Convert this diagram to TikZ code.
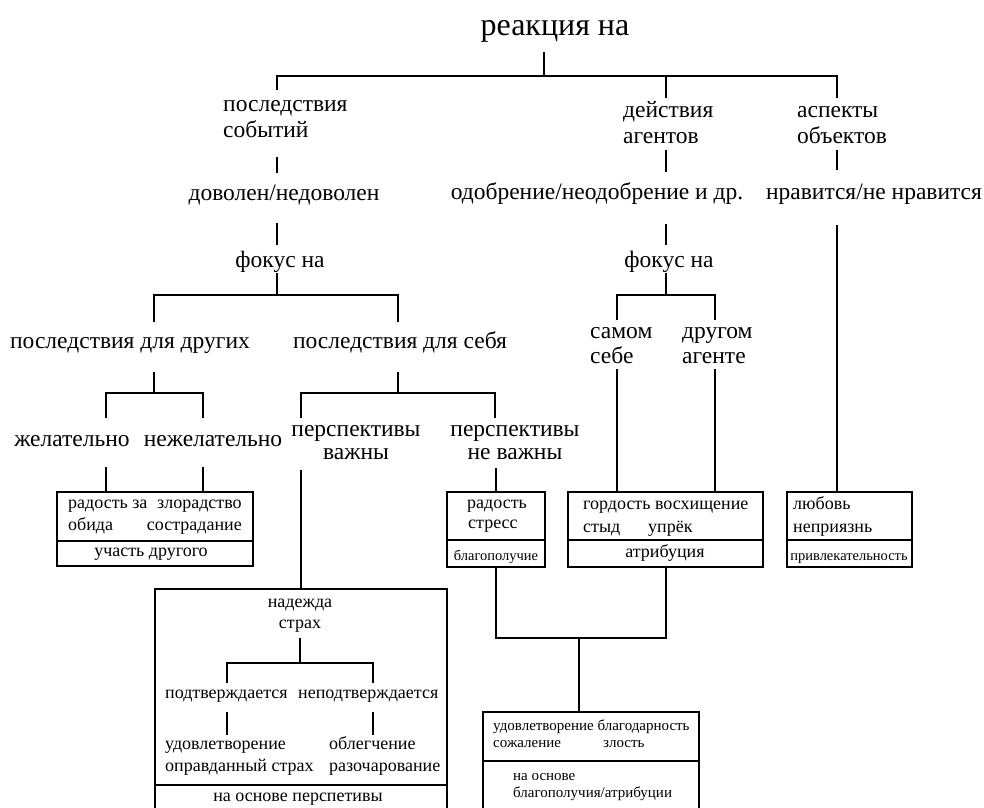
\documentclass[tikz,border=0pt]{standalone}
\usepackage{fontspec}
\setmainfont{Liberation Serif}
\begin{document}
\begin{tikzpicture}[x=1pt,y=-1pt,
  ln/.style={line width=2.1pt, line join=miter},
  ttl/.style={font=\fontsize{32}{36}\selectfont, inner sep=0pt},
  big/.style={font=\fontsize{23.5}{26}\selectfont, inner sep=0pt},
  bx/.style={font=\fontsize{18}{22}\selectfont, inner sep=0pt},
  sm/.style={font=\fontsize{14.5}{17}\selectfont, inner sep=0pt},
  bt/.style={font=\fontsize{15}{17}\selectfont, inner sep=0pt},
  frame/.style={draw, line width=2.1pt, inner sep=0pt, outer sep=0pt, anchor=north west},
]
\useasboundingbox (0,0) rectangle (984,807);
\fill[white] (0,0) rectangle (984,807);
\clip (0,0) rectangle (984,807);

% ---------- text nodes ----------
\node[ttl, anchor=base] (title) at (555,35) {реакция на};

\node[big, anchor=base west] (ps1) at (223,111) {последствия};
\node[big, anchor=base west] (ps2) at (223,137) {событий};
\node[big, anchor=base west] (da1) at (623,117) {действия};
\node[big, anchor=base west] (da2) at (623,143) {агентов};
\node[big, anchor=base west] (ao1) at (797,117) {аспекты};
\node[big, anchor=base west] (ao2) at (797,143) {объектов};

\node[big, anchor=base] (dov) at (284,200) {доволен/недоволен};
\node[big, anchor=base] (odo) at (597,199) {одобрение/неодобрение и др.};
\node[big, anchor=base] (nra) at (874,199) {нравится/не нравится};

\node[big, anchor=base] (fk1) at (280,267) {фокус на};
\node[big, anchor=base] (fk2) at (669,267) {фокус на};

\node[big, anchor=base] (pdd) at (130,348) {последствия для других};
\node[big, anchor=base] (pds) at (400,348) {последствия для себя};
\node[big, anchor=base west] (sam1) at (590,338) {самом};
\node[big, anchor=base west] (sam2) at (590,363) {себе};
\node[big, anchor=base west] (dru1) at (682,338) {другом};
\node[big, anchor=base west] (dru2) at (682,363) {агенте};

\node[big, anchor=base] (zh) at (72,446) {желательно};
\node[big, anchor=base] (nzh) at (213,446) {нежелательно};
\node[big, anchor=base] (pv1) at (356,436) {перспективы};
\node[big, anchor=base] (pv2) at (356,459) {важны};
\node[big, anchor=base] (pn1) at (515,436) {перспективы};
\node[big, anchor=base] (pn2) at (515,459) {не важны};

% ---------- boxes ----------
\node[frame, minimum width=196pt, minimum height=74pt] (B1) at (57,492) {};
\node[frame, minimum width=98pt, minimum height=75pt] (B2) at (447,492) {};
\node[frame, minimum width=195pt, minimum height=75pt] (B3) at (568,492) {};
\node[frame, minimum width=125pt, minimum height=75pt] (B4) at (787,492) {};
\node[frame, minimum width=292pt, minimum height=240pt] (B5) at (155,589) {};
\node[frame, minimum width=216pt, minimum height=120pt] (B6) at (483,712) {};

\draw[ln] ([yshift=-49pt]B1.north west) -- ([yshift=-49pt]B1.north east);
\draw[ln] ([yshift=-48pt]B2.north west) -- ([yshift=-48pt]B2.north east);
\draw[ln] ([yshift=-48pt]B3.north west) -- ([yshift=-48pt]B3.north east);
\draw[ln] ([yshift=-48pt]B4.north west) -- ([yshift=-48pt]B4.north east);
\draw[ln] ([yshift=-196pt]B5.north west) -- ([yshift=-196pt]B5.north east);
\draw[ln] ([yshift=-49pt]B6.north west) -- ([yshift=-49pt]B6.north east);

% box texts
\node[bx, anchor=base west] (t11) at (68,508) {радость за};
\node[bx, anchor=base west] (t12) at (157,508) {злорадство};
\node[bx, anchor=base west] (t13) at (68,530) {обида};
\node[bx, anchor=base east] (t14) at (242,530) {сострадание};
\node[bx, anchor=base] (t15) at (151,556) {участь другого};

\node[bx, anchor=base west] (t21) at (467,508) {радость};
\node[bx, anchor=base west] (t22) at (468,528) {стресс};
\node[sm, anchor=base] (t23) at (496,560) {благополучие};

\node[bx, anchor=base west] (t31) at (583,509) {гордость восхищение};
\node[bx, anchor=base west] (t32) at (583,532) {стыд};
\node[bx, anchor=base west] (t33) at (648,532) {упрёк};
\node[bx, anchor=base] (t34) at (665,557) {атрибуция};

\node[bx, anchor=base west] (t41) at (793,509) {любовь};
\node[bx, anchor=base west] (t42) at (793,532) {неприязнь};
\node[sm, anchor=base] (t43) at (849,560) {привлекательность};

\node[bx, anchor=base] (t51) at (300,607) {надежда};
\node[bx, anchor=base] (t52) at (300,628) {страх};
\node[bx, anchor=base west] (t53) at (165,698) {подтверждается};
\node[bx, anchor=base west] (t54) at (298,698) {неподтверждается};
\node[bx, anchor=base west] (t55) at (165,749) {удовлетворение};
\node[bx, anchor=base west] (t56) at (165,771) {оправданный страх};
\node[bx, anchor=base west] (t57) at (329,749) {облегчение};
\node[bx, anchor=base west] (t58) at (329,771) {разочарование};
\node[bx, anchor=base] (t59) at (298,801) {на основе перспетивы};

\node[bt, anchor=base west] (t61) at (493,730) {удовлетворение благодарность};
\node[bt, anchor=base west] (t62) at (493,747) {сожаление};
\node[bt, anchor=base west] (t63) at (603,747) {злость};
\node[bt, anchor=base west] (t64) at (513,780) {на основе};
\node[bt, anchor=base west] (t65) at (513,797) {благополучия/атрибуции};

% ---------- connector x positions ----------
\coordinate (v106) at (106,0);
\coordinate (v203) at (203,0);
\coordinate (v301) at (301,0);
\coordinate (v496) at (496,0);
\coordinate (v579) at (579,0);
\coordinate (v617) at (617,0);
\coordinate (v666) at (666,0);
\coordinate (v715) at (715,0);
\coordinate (v837) at (837,0);

% title bar
\draw[ln] (544,52) -- (544,76);
\draw[ln] (277,90) -- (277,76) -- (837,76) -- (837,98);
\draw[ln] (666,76) -- (666,98);

% left column
\draw[ln] (277,157) -- (277,173);
\draw[ln] (277,223) -- (277,245);
\draw[ln] (277,273) -- (277,295);
\draw[ln] (154,322) -- (154,295) -- (398,295) -- (398,322);

% middle column
\draw[ln] (666,150) -- (666,172);
\draw[ln] (666,224) -- (666,245);
\draw[ln] (666,273) -- (666,295);
\draw[ln] (617,320) -- (617,295) -- (715,295) -- (715,320);
\draw[ln] (617,369) -- (v617 |- B3.north);
\draw[ln] (715,369) -- (v715 |- B3.north);

% right column
\draw[ln] (837,150) -- (837,170);
\draw[ln] (837,225) -- (v837 |- B4.north);

% consequences for others
\draw[ln] (154,372) -- (154,393);
\draw[ln] (106,418) -- (106,393) -- (203,393) -- (203,418);
\draw[ln] (106,467) -- (v106 |- B1.north);
\draw[ln] (203,467) -- (v203 |- B1.north);

% consequences for self
\draw[ln] (398,372) -- (398,393);
\draw[ln] (301,418) -- (301,393) -- (495,393) -- (495,418);
\draw[ln] (301,470) -- (v301 |- B5.north);
\draw[ln] (496,468) -- (v496 |- B2.north);

% joining to bottom box
\draw[ln] (v496 |- B2.south) -- (496,638) -- (666,638) -- (v666 |- B3.south);
\draw[ln] (579,638) -- (v579 |- B6.north);

% inside big box
\draw[ln] (300,638) -- (300,663);
\draw[ln] (227,683) -- (227,663) -- (373,663) -- (373,683);
\draw[ln] (227,712) -- (227,735);
\draw[ln] (373,712) -- (373,735);
\end{tikzpicture}
\end{document}
